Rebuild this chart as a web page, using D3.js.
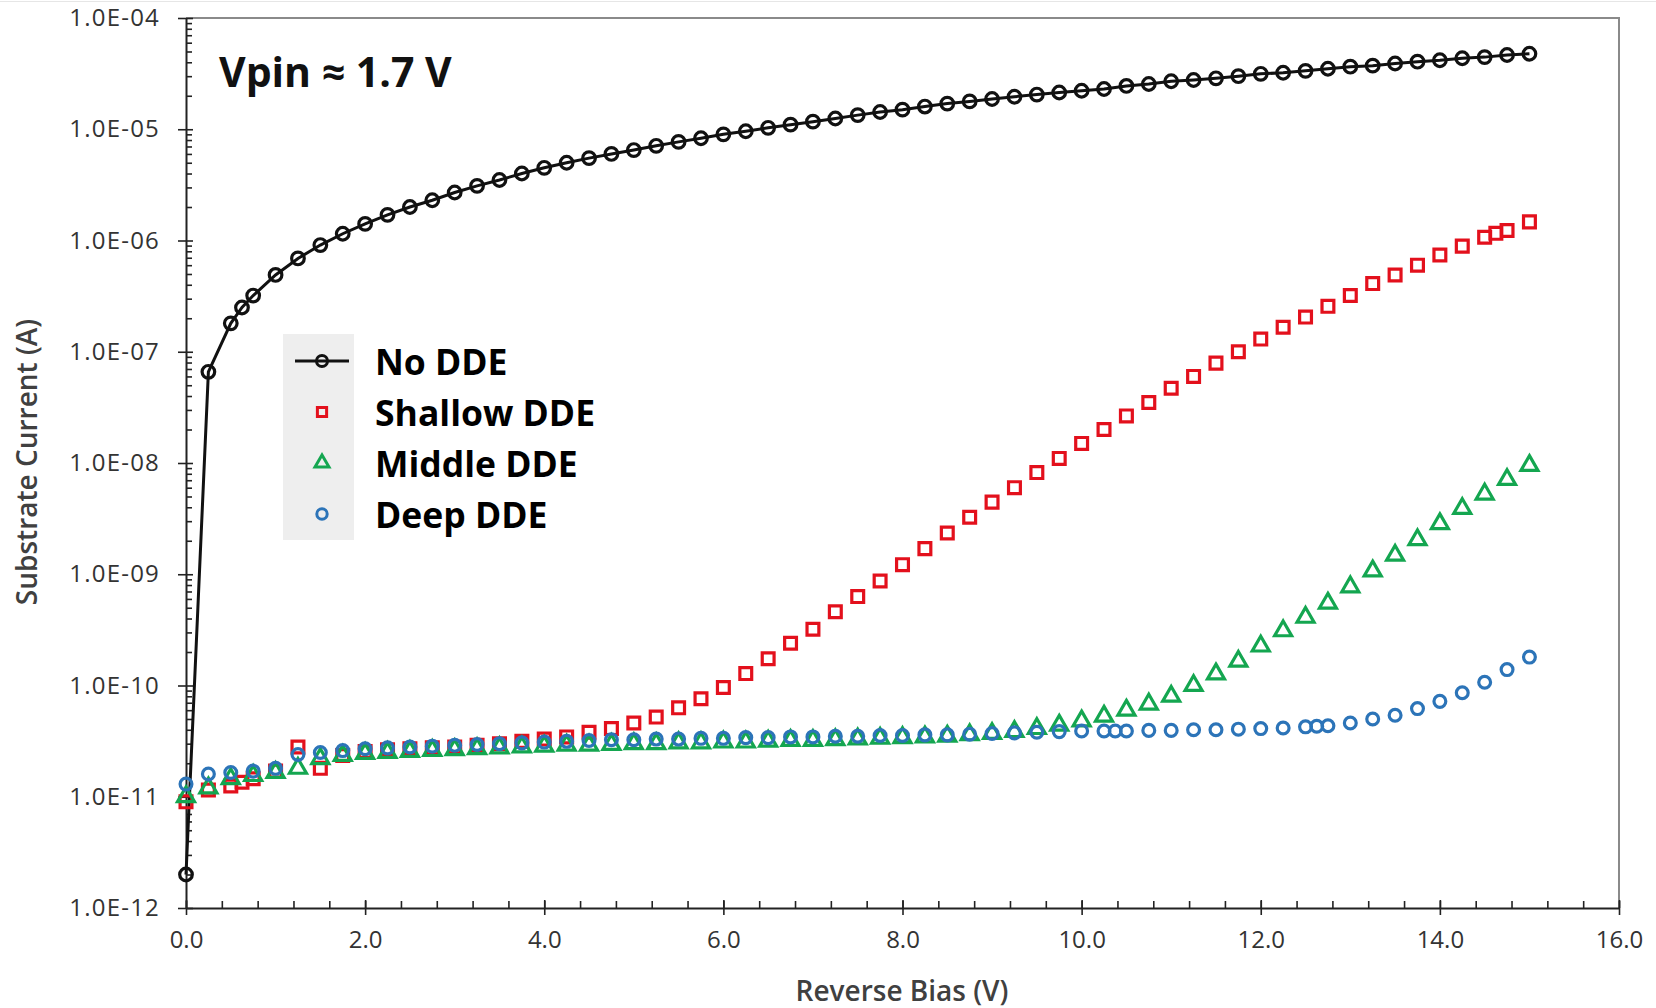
<!DOCTYPE html>
<html>
<head>
<meta charset="utf-8">
<script src="https://cdn.jsdelivr.net/npm/d3@7"></script>
<style>
  html, body { margin: 0; padding: 0; background: #fff; }
  svg { display: block; }
</style>
</head>
<body>
<div id="chart"></div>
<script>
// reverse bias (V) and substrate current (A)
const biasNoDDE = [0, 0.25, 0.5, 0.625, 0.75, 1, 1.25, 1.5, 1.75, 2, 2.25, 2.5, 2.75, 3, 3.25, 3.5, 3.75, 4,
  4.25, 4.5, 4.75, 5, 5.25, 5.5, 5.75, 6, 6.25, 6.5, 6.75, 7, 7.25, 7.5, 7.75, 8, 8.25, 8.5, 8.75, 9,
  9.25, 9.5, 9.75, 10, 10.25, 10.5, 10.75, 11, 11.25, 11.5, 11.75, 12, 12.25, 12.5, 12.75, 13, 13.25,
  13.5, 13.75, 14, 14.25, 14.5, 14.75, 15];
const currentNoDDE = [2.0e-12, 6.6e-8, 1.8e-7, 2.5e-7, 3.2e-7, 4.9e-7, 6.9e-7, 9.1e-7, 1.15e-6, 1.41e-6,
  1.7e-6, 2.0e-6, 2.3e-6, 2.7e-6, 3.1e-6, 3.5e-6, 4.0e-6, 4.5e-6, 5.0e-6, 5.5e-6, 6.0e-6, 6.5e-6, 7.1e-6,
  7.7e-6, 8.3e-6, 9.0e-6, 9.6e-6, 1.03e-5, 1.1e-5, 1.17e-5, 1.25e-5, 1.34e-5, 1.43e-5, 1.5e-5, 1.6e-5,
  1.7e-5, 1.78e-5, 1.87e-5, 1.96e-5, 2.05e-5, 2.14e-5, 2.22e-5, 2.3e-5, 2.45e-5, 2.55e-5, 2.7e-5, 2.77e-5,
  2.87e-5, 3.0e-5, 3.15e-5, 3.22e-5, 3.35e-5, 3.5e-5, 3.65e-5, 3.73e-5, 3.9e-5, 4.05e-5, 4.17e-5, 4.35e-5,
  4.45e-5, 4.65e-5, 4.77e-5];

const biasShallow = [0, 0.25, 0.5, 0.625, 0.75, 1, 1.25, 1.5, 1.75, 2, 2.25, 2.5, 2.75, 3, 3.25, 3.5, 3.75, 4,
  4.25, 4.5, 4.75, 5, 5.25, 5.5, 5.75, 6, 6.25, 6.5, 6.75, 7, 7.25, 7.5, 7.75, 8, 8.25, 8.5, 8.75, 9,
  9.25, 9.5, 9.75, 10, 10.25, 10.5, 10.75, 11, 11.25, 11.5, 11.75, 12, 12.25, 12.5, 12.75, 13, 13.25,
  13.5, 13.75, 14, 14.25, 14.5, 14.625, 14.75, 15];
const currentShallow = [9.0e-12, 1.15e-11, 1.25e-11, 1.35e-11, 1.45e-11, 1.7e-11, 2.8e-11, 1.8e-11, 2.35e-11,
  2.55e-11, 2.65e-11, 2.7e-11, 2.75e-11, 2.8e-11, 2.9e-11, 3.0e-11, 3.15e-11, 3.3e-11, 3.45e-11, 3.8e-11,
  4.1e-11, 4.6e-11, 5.2e-11, 6.3e-11, 7.6e-11, 9.6e-11, 1.28e-10, 1.74e-10, 2.4e-10, 3.2e-10, 4.6e-10,
  6.3e-10, 8.7e-10, 1.22e-9, 1.7e-9, 2.35e-9, 3.25e-9, 4.45e-9, 6.0e-9, 8.2e-9, 1.1e-8, 1.5e-8, 2.0e-8,
  2.65e-8, 3.5e-8, 4.7e-8, 6.0e-8, 7.9e-8, 1.0e-7, 1.3e-7, 1.66e-7, 2.05e-7, 2.56e-7, 3.2e-7, 4.1e-7,
  4.9e-7, 6.0e-7, 7.4e-7, 8.9e-7, 1.07e-6, 1.16e-6, 1.23e-6, 1.47e-6];

const biasMiddle = [0, 0.25, 0.5, 0.75, 1, 1.25, 1.5, 1.75, 2, 2.25, 2.5, 2.75, 3, 3.25, 3.5, 3.75, 4,
  4.25, 4.5, 4.75, 5, 5.25, 5.5, 5.75, 6, 6.25, 6.5, 6.75, 7, 7.25, 7.5, 7.75, 8, 8.25, 8.5, 8.75, 9,
  9.25, 9.5, 9.75, 10, 10.25, 10.5, 10.75, 11, 11.25, 11.5, 11.75, 12, 12.25, 12.5, 12.75, 13, 13.25,
  13.5, 13.75, 14, 14.25, 14.5, 14.75, 15];
const currentMiddle = [1.0e-11, 1.2e-11, 1.45e-11, 1.55e-11, 1.65e-11, 1.8e-11, 2.2e-11, 2.35e-11, 2.45e-11,
  2.5e-11, 2.55e-11, 2.6e-11, 2.65e-11, 2.7e-11, 2.75e-11, 2.8e-11, 2.85e-11, 2.9e-11, 2.9e-11, 2.95e-11,
  3.0e-11, 3.0e-11, 3.05e-11, 3.05e-11, 3.1e-11, 3.1e-11, 3.15e-11, 3.2e-11, 3.2e-11, 3.25e-11, 3.3e-11,
  3.35e-11, 3.4e-11, 3.45e-11, 3.5e-11, 3.6e-11, 3.7e-11, 3.85e-11, 4.1e-11, 4.4e-11, 4.8e-11, 5.3e-11,
  6.0e-11, 6.8e-11, 8.0e-11, 1.0e-10, 1.27e-10, 1.65e-10, 2.26e-10, 3.1e-10, 4.1e-10, 5.5e-10, 7.7e-10,
  1.07e-9, 1.48e-9, 2.04e-9, 2.85e-9, 3.9e-9, 5.25e-9, 7.1e-9, 9.5e-9];

const biasDeep = [0, 0.25, 0.5, 0.75, 1, 1.25, 1.5, 1.75, 2, 2.25, 2.5, 2.75, 3, 3.25, 3.5, 3.75, 4,
  4.25, 4.5, 4.75, 5, 5.25, 5.5, 5.75, 6, 6.25, 6.5, 6.75, 7, 7.25, 7.5, 7.75, 8, 8.25, 8.5, 8.75, 9,
  9.25, 9.5, 9.75, 10, 10.25, 10.375, 10.5, 10.75, 11, 11.25, 11.5, 11.75, 12, 12.25, 12.5, 12.625, 12.75,
  13, 13.25, 13.5, 13.75, 14, 14.25, 14.5, 14.75, 15];
const currentDeep = [1.3e-11, 1.6e-11, 1.65e-11, 1.7e-11, 1.8e-11, 2.4e-11, 2.5e-11, 2.6e-11, 2.7e-11,
  2.75e-11, 2.8e-11, 2.85e-11, 2.9e-11, 2.95e-11, 3.0e-11, 3.05e-11, 3.1e-11, 3.15e-11, 3.2e-11, 3.25e-11,
  3.25e-11, 3.3e-11, 3.3e-11, 3.35e-11, 3.35e-11, 3.4e-11, 3.4e-11, 3.45e-11, 3.45e-11, 3.5e-11, 3.5e-11,
  3.55e-11, 3.55e-11, 3.6e-11, 3.6e-11, 3.65e-11, 3.7e-11, 3.75e-11, 3.8e-11, 3.85e-11, 3.9e-11, 3.9e-11,
  3.9e-11, 3.9e-11, 3.95e-11, 3.95e-11, 4.0e-11, 4.0e-11, 4.05e-11, 4.1e-11, 4.15e-11, 4.25e-11, 4.3e-11,
  4.35e-11, 4.6e-11, 5.0e-11, 5.4e-11, 6.2e-11, 7.2e-11, 8.6e-11, 1.07e-10, 1.39e-10, 1.8e-10];

const seriesNames = ["No DDE", "Shallow DDE", "Middle DDE", "Deep DDE"];
const xTicks = [0, 2, 4, 6, 8, 10, 12, 14, 16];
const yTicks = [1e-12, 1e-11, 1e-10, 1e-9, 1e-8, 1e-7, 1e-6, 1e-5, 1e-4];
const annotation = "Vpin \u2248 1.7 V";

var W = 1656, H = 1008;
var margin = {top: 18, right: 37, bottom: 100, left: 186},
    width = W - margin.left - margin.right,
    height = H - margin.top - margin.bottom;

var root = d3.select("#chart").append("svg")
    .attr("width", W)
    .attr("height", H);

// faint top edge of the chart area
root.append("line")
    .attr("x1", 0).attr("x2", W)
    .attr("y1", 1.5).attr("y2", 1.5)
    .attr("stroke", "#e6e6e6");

var svg = root.append("g")
    .attr("transform", "translate(" + margin.left + "," + margin.top + ")");

var x = d3.scaleLinear().domain([0, 16]).range([0, width]);
var y = d3.scaleLog().domain([1e-12, 1e-4]).range([height, 0]);

var tickFont = "'Open Sans', sans-serif";
var labelColor = "#333333";

// plot area border (top + right)
svg.append("path")
    .attr("d", "M0,0H" + width + "V" + height)
    .attr("fill", "none")
    .attr("stroke", "#8a8a8a")
    .attr("stroke-width", 2);

// X axis: crossing major ticks, inside minor ticks
var minorX = d3.range(0, 16.001, 0.4);
svg.append("g")
    .attr("transform", "translate(0," + height + ")")
    .call(d3.axisTop(x).tickValues(minorX).tickSize(7).tickFormat(""))
    .call(g => g.select(".domain").remove());
var xAxisG = svg.append("g")
    .attr("transform", "translate(0," + height + ")")
    .call(d3.axisBottom(x).tickValues(xTicks).tickSize(7).tickSizeOuter(0).tickPadding(16)
      .tickFormat(d3.format(".1f")));
svg.append("g")
    .attr("transform", "translate(0," + height + ")")
    .call(d3.axisTop(x).tickValues(xTicks).tickSize(8).tickFormat(""))
    .call(g => g.select(".domain").remove());

// Y axis
var minorY = y.ticks().filter(d => yTicks.indexOf(d) < 0);
svg.append("g")
    .call(d3.axisRight(y).tickValues(minorY).tickSize(6).tickFormat(""))
    .call(g => g.select(".domain").remove());
svg.append("g")
    .call(d3.axisRight(y).tickValues(yTicks).tickSize(7).tickFormat(""))
    .call(g => g.select(".domain").remove());
var yAxisG = svg.append("g")
    .call(d3.axisLeft(y).tickValues(yTicks).tickSize(8).tickSizeOuter(0).tickPadding(18)
      .tickFormat(d => "1.0E-" + String(Math.round(-Math.log10(d))).padStart(2, "0")));

xAxisG.selectAll("text")
    .attr("font-family", tickFont)
    .attr("font-size", 24)
    .attr("fill", labelColor);
yAxisG.selectAll("text")
    .attr("font-family", tickFont)
    .attr("font-size", 24)
    .attr("letter-spacing", 1.2)
    .attr("fill", labelColor);
svg.selectAll(".tick line").attr("stroke", "#222").attr("stroke-width", 1.6);
svg.selectAll(".domain").attr("stroke", "#222").attr("stroke-width", 2);

// axis titles
root.append("text")
    .attr("transform", "translate(26," + 462 + ") rotate(-90)")
    .attr("text-anchor", "middle")
    .attr("dominant-baseline", "central")
    .attr("font-family", tickFont)
    .attr("font-weight", 600)
    .attr("font-size", 28)
    .attr("fill", "#404040")
    .text("Substrate Current (A)");
root.append("text")
    .attr("x", 902)
    .attr("y", 990)
    .attr("text-anchor", "middle")
    .attr("dominant-baseline", "central")
    .attr("font-family", tickFont)
    .attr("font-weight", 600)
    .attr("font-size", 28)
    .attr("fill", "#404040")
    .text("Reverse Bias (V)");

// annotation
root.append("text")
    .attr("x", 219)
    .attr("y", 71)
    .attr("dominant-baseline", "central")
    .attr("font-family", tickFont)
    .attr("font-weight", 700)
    .attr("font-size", 41)
    .attr("fill", "#111")
    .text(annotation);

var colors = ["#111111", "#e3101c", "#14a650", "#2c74b8"];
var symbols = [d3.symbolCircle, d3.symbolSquare, d3.symbolTriangle, d3.symbolCircle];
var sizes = [125, 140, 125, 110];

var series = [
  {x: biasNoDDE, y: currentNoDDE},
  {x: biasShallow, y: currentShallow},
  {x: biasMiddle, y: currentMiddle},
  {x: biasDeep, y: currentDeep}
].map((s, i) => ({
  name: seriesNames[i],
  points: s.x.map((v, j) => ({bias: v, current: s.y[j]}))
}));

// No DDE line
var line = d3.line().x(d => x(d.bias)).y(d => y(d.current));
svg.append("path")
    .datum(series[0].points)
    .attr("fill", "none")
    .attr("stroke", colors[0])
    .attr("stroke-width", 3)
    .attr("d", line);

series.forEach(function(s, i) {
  svg.append("g")
    .selectAll("path")
    .data(s.points)
    .enter()
    .append("path")
      .attr("transform", d => "translate(" + x(d.bias) + "," + y(d.current) + ")")
      .attr("d", d3.symbol().type(symbols[i]).size(sizes[i]))
      .attr("fill", "none")
      .attr("stroke", colors[i])
      .attr("stroke-width", 3.2);
});

// legend
var legend = root.append("g");
legend.append("rect")
    .attr("x", 283).attr("y", 334)
    .attr("width", 71).attr("height", 206)
    .attr("fill", "#eeeeee");
var rowY = [361, 412, 463, 514];
seriesNames.forEach(function(name, i) {
  var row = legend.append("g").attr("transform", "translate(322," + rowY[i] + ")");
  if (i === 0) {
    row.append("line")
      .attr("x1", -27).attr("x2", 27)
      .attr("stroke", colors[0]).attr("stroke-width", 3);
  }
  row.append("path")
    .attr("d", d3.symbol().type(symbols[i]).size(i === 0 ? 95 : 85))
    .attr("fill", "none")
    .attr("stroke", colors[i])
    .attr("stroke-width", 3);
  row.append("text")
    .attr("x", 53)
    .attr("dominant-baseline", "central")
    .attr("font-family", tickFont)
    .attr("font-weight", 700)
    .attr("font-size", 35.5)
    .attr("fill", "#000")
    .text(name);
});
</script>
</body>
</html>
